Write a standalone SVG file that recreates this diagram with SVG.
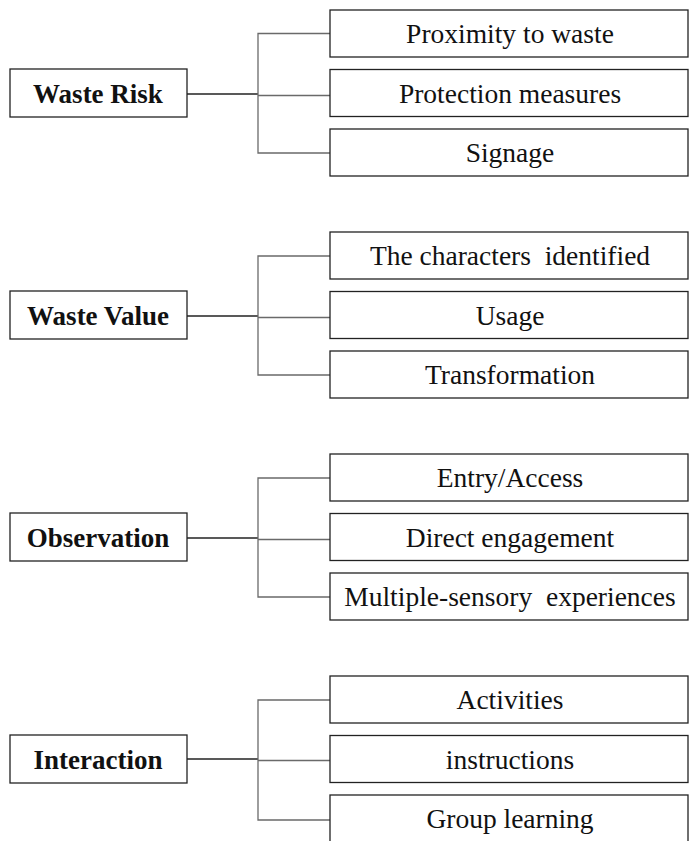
<svg xmlns="http://www.w3.org/2000/svg" width="689" height="841" viewBox="0 0 689 841">
  <style>
    .box { fill: #ffffff; stroke: #222222; stroke-width: 1.3; }
    .main { fill: #ffffff; stroke: #222222; stroke-width: 1.3; }
    .lbl { font-family: "Liberation Serif", "Times New Roman", serif; font-size: 27.5px; fill: #111111; text-anchor: middle; }
    .head { font-family: "Liberation Serif", "Times New Roman", serif; font-size: 27px; font-weight: bold; fill: #111111; text-anchor: middle; }
    .trunk { stroke: #222222; stroke-width: 1.3; fill: none; }
    .branch { stroke: #6a6a6a; stroke-width: 1.3; fill: none; }
  </style>
  <rect width="689" height="841" fill="#ffffff"/>

  <!-- connectors: one trunk from each heading, then a bracket to its three items -->
  <g id="connectors">
    <line class="trunk" x1="187" y1="94" x2="258" y2="94"/>
    <path class="branch" d="M330 33.5 H258 V153 H330 M258 95.5 H330"/>

    <line class="trunk" x1="187" y1="316" x2="258" y2="316"/>
    <path class="branch" d="M330 256 H258 V375 H330 M258 317.5 H330"/>

    <line class="trunk" x1="187" y1="538" x2="258" y2="538"/>
    <path class="branch" d="M330 478 H258 V597 H330 M258 539.5 H330"/>

    <line class="trunk" x1="187" y1="759" x2="258" y2="759"/>
    <path class="branch" d="M330 700 H258 V820 H330 M258 760.5 H330"/>
  </g>

  <!-- Waste Risk -->
  <g id="waste-risk">
    <rect class="main" x="10" y="69" width="177" height="48"/>
    <text class="head" x="98" y="103">Waste Risk</text>
  </g>
  <g id="proximity">
    <rect class="box" x="330" y="10" width="358" height="47"/>
    <text class="lbl" x="510" y="43">Proximity to waste</text>
  </g>
  <g id="protection">
    <rect class="box" x="330" y="69.5" width="358" height="47"/>
    <text class="lbl" x="510" y="102.5">Protection measures</text>
  </g>
  <g id="signage">
    <rect class="box" x="330" y="129" width="358" height="47"/>
    <text class="lbl" x="510" y="162">Signage</text>
  </g>

  <!-- Waste Value -->
  <g id="waste-value">
    <rect class="main" x="10" y="291" width="177" height="48"/>
    <text class="head" x="98" y="325">Waste Value</text>
  </g>
  <g id="characters">
    <rect class="box" x="330" y="232" width="358" height="47"/>
    <text class="lbl" x="510" y="265" xml:space="preserve">The characters  identified</text>
  </g>
  <g id="usage">
    <rect class="box" x="330" y="291.5" width="358" height="47"/>
    <text class="lbl" x="510" y="324.5">Usage</text>
  </g>
  <g id="transformation">
    <rect class="box" x="330" y="351" width="358" height="47"/>
    <text class="lbl" x="510" y="384">Transformation</text>
  </g>

  <!-- Observation -->
  <g id="observation">
    <rect class="main" x="10" y="513" width="177" height="48"/>
    <text class="head" x="98" y="547">Observation</text>
  </g>
  <g id="entry">
    <rect class="box" x="330" y="454" width="358" height="47"/>
    <text class="lbl" x="510" y="487">Entry/Access</text>
  </g>
  <g id="engagement">
    <rect class="box" x="330" y="513.5" width="358" height="47"/>
    <text class="lbl" x="510" y="546.5">Direct engagement</text>
  </g>
  <g id="sensory">
    <rect class="box" x="330" y="573" width="358" height="47"/>
    <text class="lbl" x="510" y="606" xml:space="preserve">Multiple-sensory  experiences</text>
  </g>

  <!-- Interaction -->
  <g id="interaction">
    <rect class="main" x="10" y="735" width="177" height="48"/>
    <text class="head" x="98" y="769">Interaction</text>
  </g>
  <g id="activities">
    <rect class="box" x="330" y="676" width="358" height="47"/>
    <text class="lbl" x="510" y="709">Activities</text>
  </g>
  <g id="instructions">
    <rect class="box" x="330" y="735.5" width="358" height="47"/>
    <text class="lbl" x="510" y="768.5">instructions</text>
  </g>
  <g id="group-learning">
    <rect class="box" x="330" y="795" width="358" height="60"/>
    <text class="lbl" x="510" y="828">Group learning</text>
  </g>
</svg>
